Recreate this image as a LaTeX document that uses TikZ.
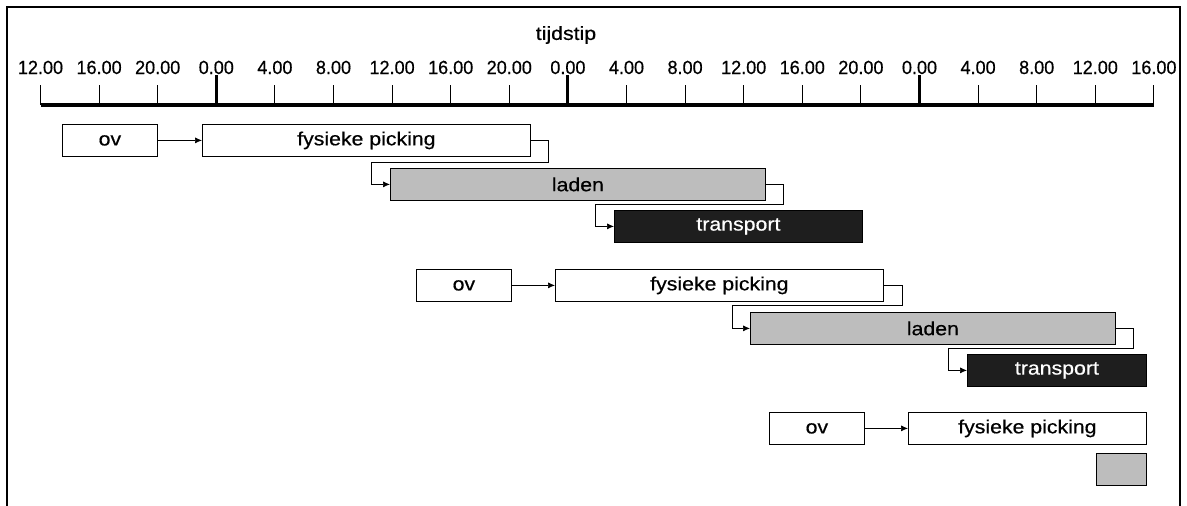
\documentclass[tikz,border=0pt]{standalone}
\usepackage{fontspec}
\setmainfont{Liberation Sans}
\newfontfamily\barfont[FakeStretch=1.12, FakeBold=0.5]{Liberation Sans}
\newfontfamily\tickfont[FakeStretch=0.95, FakeBold=0.5]{Liberation Sans}
\usepackage{tikz}
\usetikzlibrary{arrows.meta, positioning}
\definecolor{ladengray}{HTML}{BDBDBD}
\definecolor{transportdark}{HTML}{1E1E1E}

\begin{document}
\begin{tikzpicture}[x=1pt, y=-1pt,
  bar/.style={rectangle, draw, line width=0.8pt, fill=white, inner sep=0pt,
              anchor=north west, minimum height=32pt, text centered,
              font=\barfont\fontsize{19}{21}\selectfont},
  ladenbar/.style={bar, fill=ladengray},
  transportbar/.style={bar, fill=transportdark, text=white},
  arr/.style={-{Latex[length=7pt,width=6pt]}, line width=0.7pt},
  ticklabel/.style={anchor=base, inner sep=0pt,
                    font=\tickfont\fontsize{19}{21}\selectfont}
]
\useasboundingbox (0,0) rectangle (1187,506);

% frame
\draw[line width=2.5pt] (7,506) -- (7,7) -- (1180,7) -- (1180,506);

% time axis
\node[font=\barfont\fontsize{19}{21}\selectfont] (tijd) at (566,35) {tijdstip};
\draw[line width=3.5pt] (40.5,105) -- (1154,105);
\foreach \lbl [count=\i from 0] in {12.00,16.00,20.00,0.00,4.00,8.00,12.00,
    16.00,20.00,0.00,4.00,8.00,12.00,16.00,20.00,0.00,4.00,8.00,12.00,16.00} {
  \draw[line width=1pt] (40.5+58.6*\i,105) -- (40.5+58.6*\i,85);
  \node[ticklabel] (lbl\i) at (40.5+58.6*\i,74) {\lbl};
}
\foreach \i in {3,9,15}
  \draw[line width=3pt] (40.5+58.6*\i,105) -- (40.5+58.6*\i,75);

% first order
\node[bar, minimum width=95pt] (ov1) at (62,124) {ov};
\node[bar, minimum width=328pt] (pick1) at (202,124) {fysieke picking};
\node[ladenbar, minimum width=375pt] (laden1) at (390,168) {laden};
\node[transportbar, minimum width=248pt] (transp1) at (614,210) {transport};

% second order
\node[bar, minimum width=95pt] (ov2) at (416,269) {ov};
\node[bar, minimum width=328pt] (pick2) at (555,269) {fysieke picking};
\node[ladenbar, minimum width=365pt] (laden2) at (750,312) {laden};
\node[transportbar, minimum width=179pt] (transp2) at (967,354) {transport};

% third order
\node[bar, minimum width=95pt] (ov3) at (769,412) {ov};
\node[bar, minimum width=238pt] (pick3) at (908,412) {fysieke picking};
\node[ladenbar, minimum width=50pt] (laden3) at (1096,453) {};

% connectors
\draw[arr] (ov1) -- (pick1);
\draw[arr] (pick1.east) -- ++(18,0) -- ++(0,22) -| ([xshift=-19pt]laden1.west) -- (laden1.west);
\draw[arr] (laden1.east) -- ++(18,0) -- ++(0,20) -| ([xshift=-19pt]transp1.west) -- (transp1.west);

\draw[arr] (ov2) -- (pick2);
\draw[arr] (pick2.east) -- ++(19,0) -- ++(0,20) -| ([xshift=-18pt]laden2.west) -- (laden2.west);
\draw[arr] (laden2.east) -- ++(18,0) -- ++(0,20) -| ([xshift=-19pt]transp2.west) -- (transp2.west);

\draw[arr] (ov3) -- (pick3);

\end{tikzpicture}
\end{document}
